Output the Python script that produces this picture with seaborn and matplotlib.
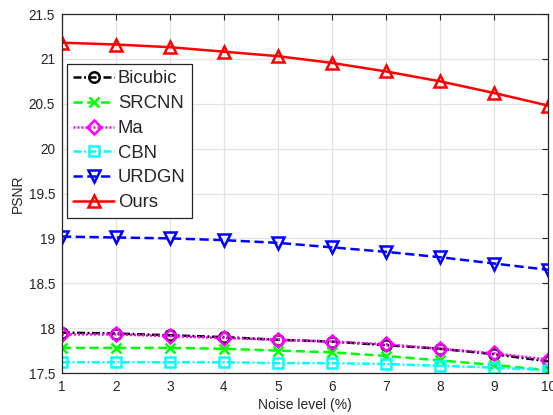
import matplotlib
matplotlib.use("Agg")
import matplotlib.pyplot as plt
from matplotlib.lines import Line2D
import seaborn as sns
import numpy as np
import pandas as pd

noise = [1, 2, 3, 4, 5, 6, 7, 8, 9, 10]
bicubic = [17.95, 17.94, 17.92, 17.90, 17.87, 17.85, 17.81, 17.77, 17.71, 17.63]
srcnn = [17.78, 17.78, 17.78, 17.77, 17.75, 17.73, 17.69, 17.64, 17.59, 17.53]
ma = [17.93, 17.93, 17.91, 17.89, 17.87, 17.85, 17.82, 17.77, 17.72, 17.65]
cbn = [17.62, 17.62, 17.62, 17.62, 17.61, 17.61, 17.60, 17.58, 17.56, 17.53]
urdgn = [19.02, 19.01, 19.00, 18.98, 18.95, 18.90, 18.85, 18.79, 18.72, 18.65]
ours = [21.18, 21.16, 21.13, 21.08, 21.03, 20.955, 20.86, 20.75, 20.62, 20.48]

series_names = ["Bicubic", "SRCNN", "Ma", "CBN", "URDGN", "Ours"]
series_vals = [bicubic, srcnn, ma, cbn, urdgn, ours]
colors = ["black", "#00ff00", "#ff00ff", "#00ffff", "#0000ff", "#ff0000"]
dashdot = (0, (3.2, 1.0, 0.8, 1.0))
dashed = (0, (3.7, 1.8))
dotted = (0, (0.8, 0.8))
styles = [dashdot, dashed, dotted, dashdot, dashed, "-"]
markers = ["o", "x", "D", "s", "v", "^"]
msizes = [7.5, 7.5, 7, 7, 9, 9]

sns.set_style("white")
plt.rcParams['font.family'] = ['Liberation Sans', 'DejaVu Sans']

fig = plt.figure(figsize=(5.53, 4.15), dpi=100)
ax = fig.add_axes([62/553, 1-373/415, 486/553, 359/415])

handles = []
for name, vals, c, ls, mk, ms in zip(series_names, series_vals, colors, styles, markers, msizes):
    df = pd.DataFrame({"x": noise, "y": vals})
    sns.lineplot(data=df, x="x", y="y", ax=ax, color=c, linestyle=ls, marker=mk,
                 markersize=ms, markerfacecolor="none", markeredgecolor=c,
                 markeredgewidth=1.8, linewidth=1.8, legend=False)
    handles.append(Line2D([], [], color=c, linestyle=ls, marker=mk, markersize=ms,
                          markerfacecolor="none", markeredgecolor=c,
                          markeredgewidth=1.8, linewidth=1.8, label=name))

ax.set_xlim(1, 10)
ax.set_ylim(17.5, 21.5)
ax.set_xticks(noise)
ax.set_yticks(np.arange(17.5, 21.51, 0.5))
ax.set_yticklabels(["17.5", "18", "18.5", "19", "19.5", "20", "20.5", "21", "21.5"])
ax.grid(True, color="#e3e3e3", linewidth=0.9)
ax.set_axisbelow(True)
ax.tick_params(direction="in", top=True, right=True, length=4, width=0.8,
               colors="#262626", labelsize=9.8, pad=5)
for s in ax.spines.values():
    s.set_visible(True)
    s.set_color("#262626")
    s.set_linewidth(0.9)
ax.set_xlabel("Noise level (%)", fontsize=10, color="#262626", labelpad=3)
ax.set_ylabel("PSNR", fontsize=10, color="#262626", labelpad=3)

leg = ax.legend(handles=handles, loc="upper left", bbox_to_anchor=(5/486, (373-64)/359),
                borderaxespad=0, fontsize=13.3, handlelength=2.2, handletextpad=0.2,
                labelspacing=0.42, borderpad=0.35, fancybox=False, framealpha=1,
                edgecolor="#262626")
leg.get_frame().set_linewidth(0.9)

fig.savefig("out.png", dpi=100)
